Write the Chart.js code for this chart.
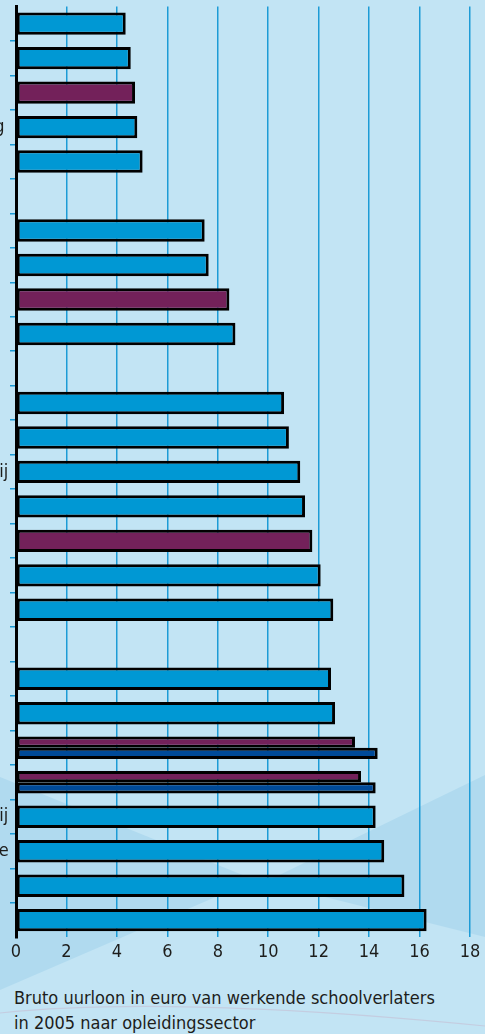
<!DOCTYPE html>
<html>
<head>
<meta charset="utf-8">
<script src="https://cdn.jsdelivr.net/npm/chart.js@4.4.1/dist/chart.umd.min.js"></script>
<style>
  html, body { margin: 0; padding: 0; }
  body { width: 485px; height: 1034px; overflow: hidden; position: relative; background: #c2e4f4; }
  #bg { position: absolute; left: 0; top: 0; }
  #wrap { position: absolute; top: 0; height: 970px; }
  #caption { position: absolute; left: 14px; top: 985px; font-size: 18px; line-height: 25px; color: #1d1d1b;
             font-family: 'Liberation Sans Narrow', 'DejaVu Sans Condensed', 'Open Sans', sans-serif; }
</style>
</head>
<body>
<svg id="bg" width="485" height="1034">
  <polygon points="0,777 255,880 0,990" fill="#b0daef"/>
  <polygon points="485,775 265,882 485,937" fill="#b0daef"/>
  <path d="M0,1013 Q170,995 485,1026" stroke="#c4cde0" stroke-width="1.2" fill="none"/>
</svg>
<div id="wrap"><canvas id="chart"></canvas></div>
<div id="caption">Bruto uurloon in euro van werkende schoolverlaters<br>in 2005 naar opleidingssector</div>
<script>
const FONT = "'Liberation Sans Narrow', 'DejaVu Sans Condensed', 'Open Sans', sans-serif";

// rows top to bottom, '' = empty spacer row
const categories = [
  'Landbouw', 'Economie', 'Totaal vmbo', 'Verzorging & verpleging', 'Techniek',
  '',
  'Economie', 'Techniek', 'Totaal mbo', 'Zorg en welzijn',
  '',
  'Landbouw', 'Techniek', 'Gedrag en maatschappij', 'Economie', 'Totaal hbo', 'Onderwijs', 'Gezondheidszorg',
  '',
  'Taal en cultuur', 'Landbouw', 'Totaal wo', 'Totaal ho', 'Gedrag en maatschappij', 'Economie, bedrijfskunde', 'Gezondheidszorg', 'Techniek'
];
// 't' = totaal row, drawn purple
const rowKind = [
  's', 's', 't', 's', 's', '',
  's', 's', 't', 's', '',
  's', 's', 's', 's', 't', 's', 's', '',
  's', 's', 't', 't', 's', 's', 's', 's'
];
const uurloon = [
  4.35, 4.55, 4.72, 4.81, 5.02, null,
  7.48, 7.64, 8.46, 8.70, null,
  10.63, 10.82, 11.27, 11.46, 11.75, 12.08, 12.58, null,
  12.49, 12.65, 13.44, 13.68, 14.26, 14.60, 15.40, 16.28
];
const uurloon2 = [
  null, null, null, null, null, null,
  null, null, null, null, null,
  null, null, null, null, null, null, null, null,
  null, null, 14.34, 14.26, null, null, null, null
];
const xTicks = [0, 2, 4, 6, 8, 10, 12, 14, 16, 18];

const BLUE = '#0098d4', PURPLE = '#73215a', DARK = '#004a98', GRID = '#1c9bd6';

// hidden area left of the page where the long labels start
const mctx = document.createElement('canvas').getContext('2d');
mctx.font = '18px ' + FONT;
const shift = Math.round(mctx.measureText('Gedrag en maatschappij').width - 8);
const wrap = document.getElementById('wrap');
wrap.style.left = (-shift) + 'px';
wrap.style.width = (485 + shift) + 'px';

new Chart(document.getElementById('chart'), {
  type: 'bar',
  data: {
    labels: categories,
    datasets: [{
      label: 'Uurloon',
      data: uurloon,
      backgroundColor: rowKind.map(k => k === 't' ? PURPLE : BLUE),
      borderColor: '#000',
      borderWidth: 3,
      borderSkipped: false
    }, {
      label: 'Uurloon (2)',
      data: uurloon2,
      backgroundColor: DARK,
      borderColor: '#000',
      borderWidth: 3,
      borderSkipped: false
    }]
  },
  options: {
    indexAxis: 'y',
    maintainAspectRatio: false,
    animation: false,
    skipNull: true,
    categoryPercentage: 0.65,
    barPercentage: 1,
    layout: { padding: { top: 6.4, right: 15, bottom: 3, left: 0 } },
    plugins: { legend: { display: false }, tooltip: { enabled: false } },
    scales: {
      x: {
        min: 0, max: 18,
        afterBuildTicks: s => { s.ticks = xTicks.map(v => ({ value: v })); },
        grid: { color: c => c.tick && c.tick.value === 0 ? 'transparent' : GRID, lineWidth: 1.5, drawTicks: false },
        border: { display: false },
        ticks: { color: '#1d1d1b', padding: 4, font: { family: FONT, size: 18 } }
      },
      y: {
        grid: {
          drawOnChartArea: false, tickLength: 6, lineWidth: 1.5,
          color: c => (c.type === 'tick' && c.index > 0) ? GRID : 'transparent'
        },
        border: { color: '#000', width: 3 },
        ticks: { crossAlign: 'far', autoSkip: false, color: '#1d1d1b', font: { family: FONT, size: 18 } },
        afterFit: s => { s.width = shift + 16; s.paddingTop = 0; s.paddingBottom = 0; }
      }
    }
  }
});
</script>
</body>
</html>
